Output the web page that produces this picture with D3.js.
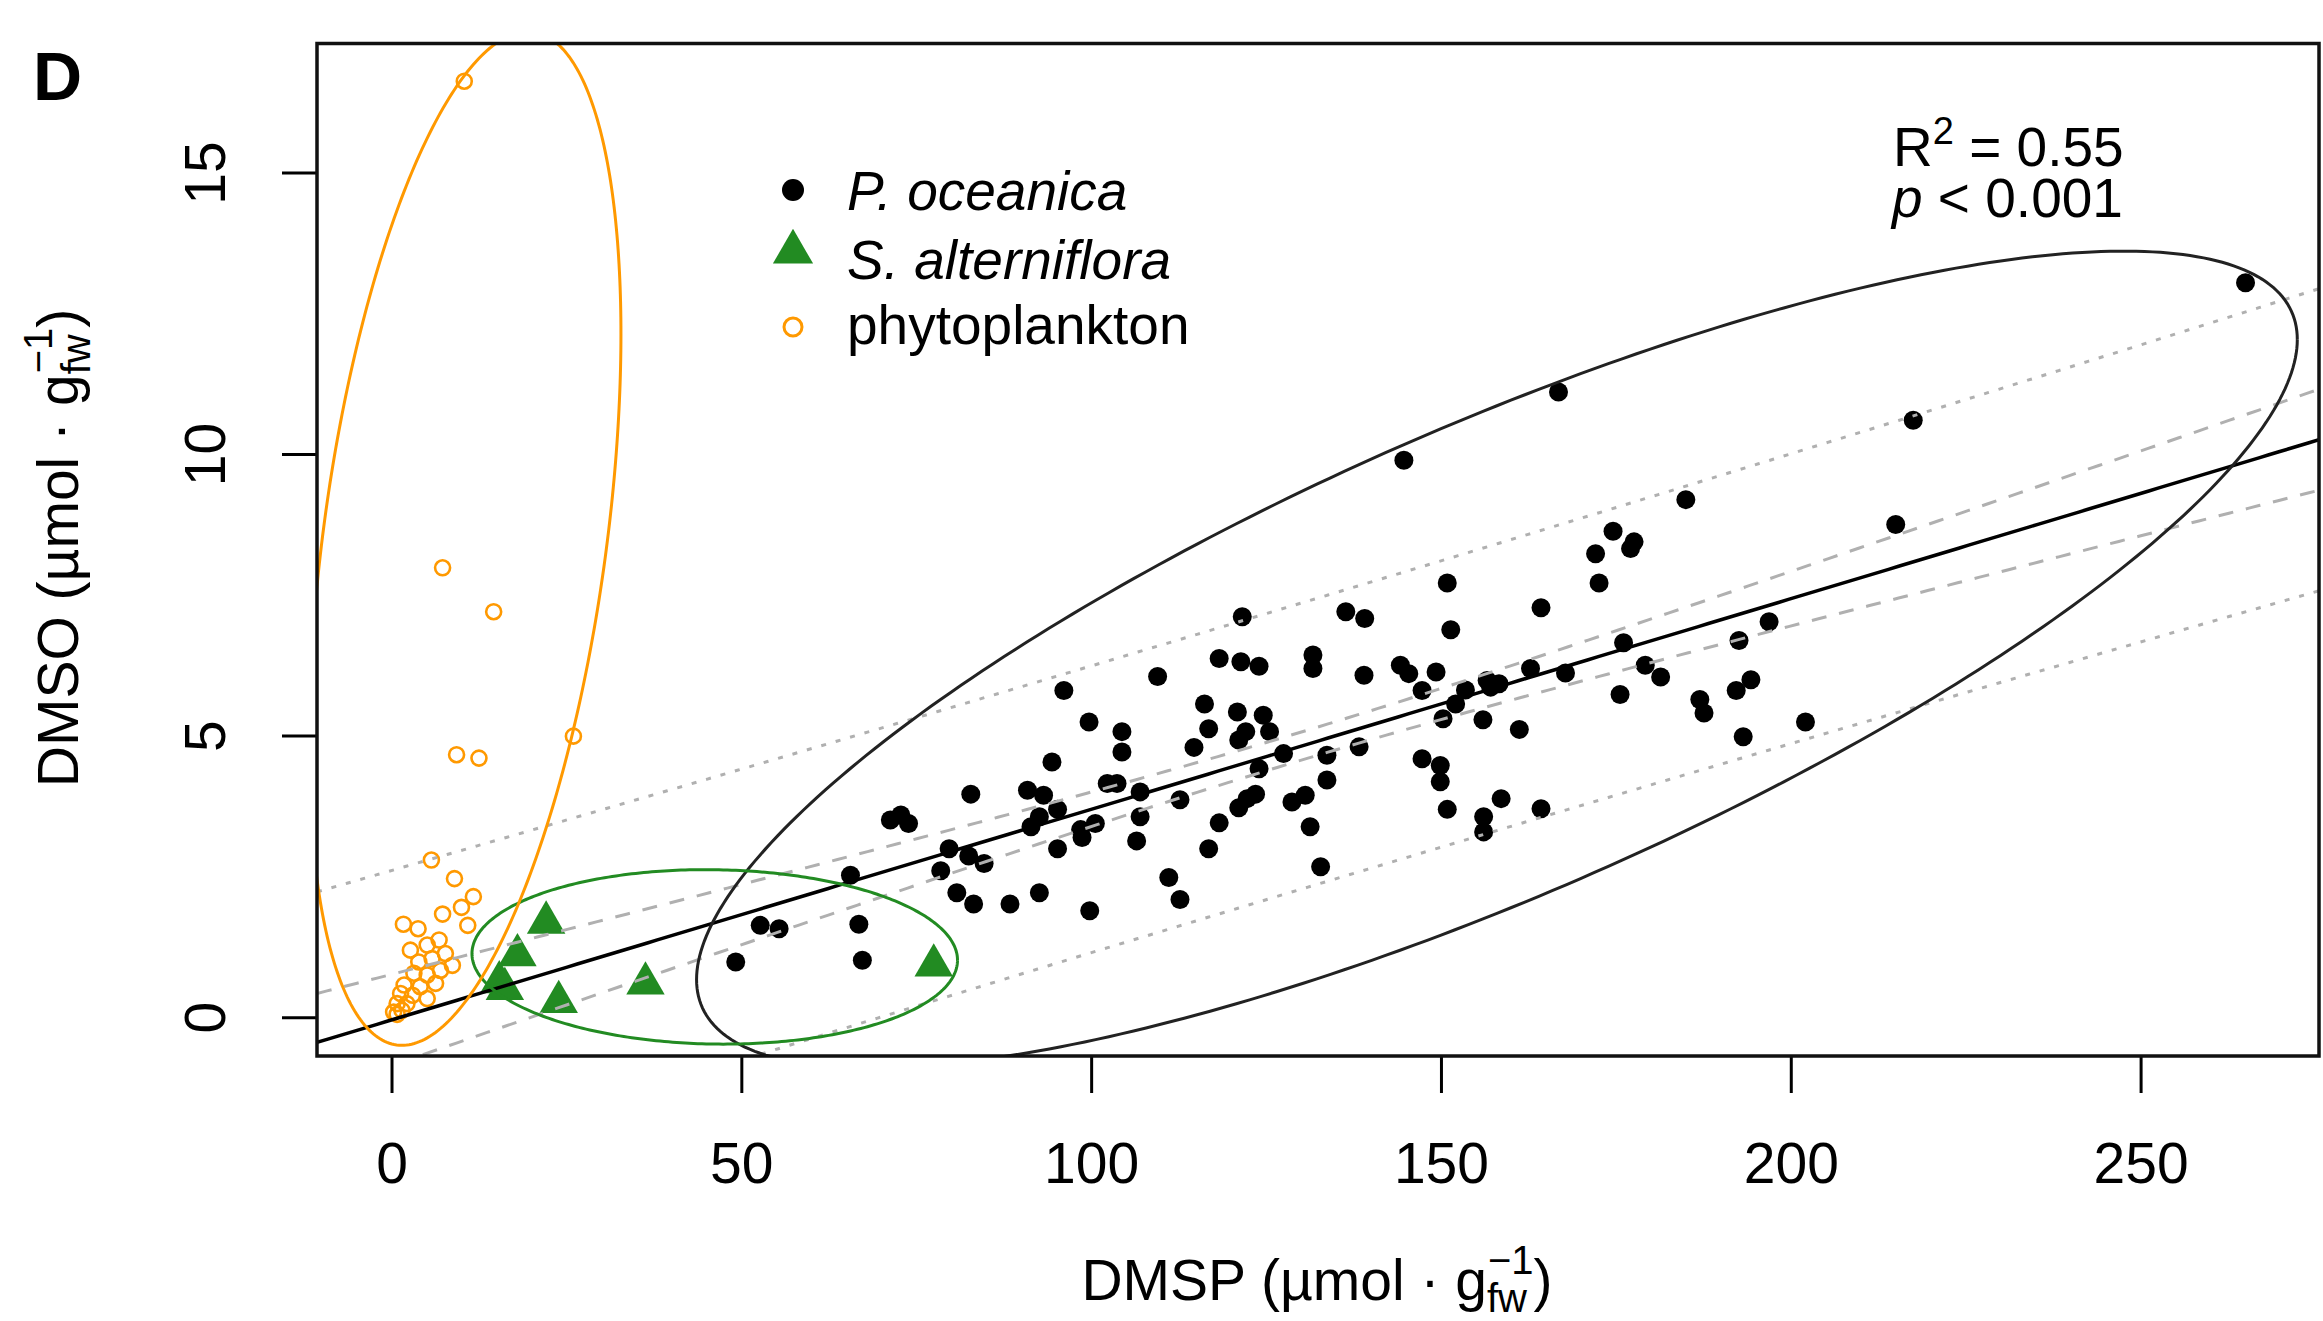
<!DOCTYPE html>
<html>
<head>
<meta charset="utf-8">
<script src="https://cdn.jsdelivr.net/npm/d3@7"></script>
<style>
  body { margin: 0; background: #fff; }
  svg { display: block; }
  text { font-family: "Liberation Sans", Arial, sans-serif; fill: #000; }
</style>
</head>
<body>
<svg id="chart" width="2323" height="1321"></svg>
<script>
// ---- data ----
const xTicks = [0, 50, 100, 150, 200, 250];
const yTicks = [0, 5, 10, 15];

// P. oceanica (DMSP, DMSO)
const oceanica = [
  [121.6,7.11],[136.4,7.20],[139.1,7.08],[96.1,5.80],[109.5,6.05],[118.3,6.37],[121.4,6.31],[124.0,6.23],
  [131.7,6.43],[131.7,6.19],[139.0,6.07],[99.7,5.24],[104.4,5.07],[104.4,4.71],[116.2,5.56],[116.8,5.12],
  [114.7,4.79],[120.9,5.42],[122.1,5.07],[121.1,4.92],[124.6,5.36],[125.5,5.07],[127.5,4.68],[124.0,4.41],
  [133.7,4.65],[133.7,4.21],[138.3,4.80],[94.4,4.53],[82.8,3.96],[72.8,3.59],[71.3,3.50],[73.9,3.44],
  [90.9,4.03],[93.2,3.94],[95.2,3.69],[92.6,3.56],[91.4,3.38],[102.3,4.15],[103.7,4.15],[107.0,4.00],
  [107.0,3.56],[106.5,3.13],[98.5,3.33],[100.6,3.44],[98.7,3.19],[95.2,2.99],[112.7,3.86],[118.3,3.45],
  [116.8,2.99],[111.1,2.48],[112.7,2.09],[122.3,3.88],[123.5,3.96],[121.1,3.72],[128.7,3.82],[130.6,3.94],
  [131.3,3.38],[132.8,2.67],[79.7,2.99],[82.5,2.86],[84.7,2.73],[78.5,2.60],[80.8,2.21],[83.2,2.01],
  [88.4,2.01],[92.6,2.21],[99.8,1.89],[65.6,2.52],[66.8,1.65],[67.3,1.01],[52.7,1.63],[55.4,1.57],
  [49.2,0.98],[144.7,9.89],[185.0,9.19],[174.6,8.63],[177.6,8.44],[177.1,8.32],[172.1,8.23],[172.6,7.71],
  [150.9,7.71],[151.4,6.88],[164.3,7.27],[144.2,6.25],[145.4,6.10],[149.3,6.13],[147.3,5.80],[153.5,5.81],
  [152.1,5.56],[150.3,5.30],[156.6,5.98],[158.3,5.92],[157.1,5.86],[162.8,6.19],[167.8,6.11],[176.1,6.65],
  [179.2,6.25],[181.4,6.04],[175.6,5.73],[156.0,5.28],[161.2,5.11],[192.6,6.69],[196.9,7.02],[187.0,5.64],
  [187.6,5.40],[194.3,5.99],[192.2,5.80],[193.2,4.98],[147.3,4.59],[149.9,4.47],[149.9,4.18],[150.9,3.69],
  [158.6,3.88],[156.1,3.56],[156.1,3.29],[164.3,3.70],[265.0,13.04],[217.5,10.60],[215.0,8.75],[202.1,5.24],
  [166.8,11.10]
];

// S. alterniflora
const alterniflora = [
  [22.1,1.68],[18.0,1.10],[15.4,0.62],[16.2,0.50],[23.9,0.27],[36.3,0.60],[77.5,0.92]
];

// phytoplankton
const phytoplankton = [
  [10.4,16.62],[7.3,7.98],[14.6,7.20],[26.0,4.99],[9.3,4.66],[12.5,4.60],[5.7,2.79],[9.0,2.46],
  [11.7,2.14],[10.0,1.95],[7.3,1.83],[10.9,1.63],[1.7,1.65],[3.8,1.57],[6.8,1.37],[5.1,1.28],
  [2.7,1.19],[7.7,1.13],[8.7,0.92],[5.8,1.04],[3.9,0.98],[7.0,0.83],[3.2,0.78],[6.3,0.60],
  [5.1,0.75],[1.8,0.57],[4.1,0.54],[1.3,0.42],[3.0,0.39],[5.1,0.33],[0.8,0.24],[2.2,0.24],
  [0.3,0.09],[1.5,0.12],[0.8,0.05]
];

// linear fit (P. oceanica) and band parameters
const fitCoef = [-0.05, 0.0374];          // intercept, slope
const fitMeanX = 130;
const confHalfAtMean = 0.25;
const predHalfAtMean = 2.54;
const bandSlope = 0.00592;

// data ellipses: centre and covariance [xx, xy, yy]
const ellipseCentres = { oceanica: [158, 6.35], alterniflora: [46.2, 1.07], phytoplankton: [10.5, 8.5] };
const ellipseCov = { oceanica: [13087, 650, 52.6], alterniflora: [1204, -2, 2.4], phytoplankton: [497, 81, 81] };

const legendLabels = ["P. oceanica", "S. alterniflora", "phytoplankton"];

// ---- layout ----
const W = 2323, H = 1321;
const margin = { left: 317, right: 4, top: 43.5, bottom: 265 };
const black = "#000", green = "#228b22", orange = "#ff9900", grey = "#b0b0b0";

const svg = d3.select("#chart");

const x = d3.scaleLinear().domain([-10.65, 275.5]).range([margin.left, W - margin.right]);
const y = d3.scaleLinear().domain([-0.69, 17.29]).range([H - margin.bottom, margin.top]);

svg.append("defs").append("clipPath").attr("id", "plotclip")
  .append("rect")
  .attr("x", margin.left).attr("y", margin.top)
  .attr("width", W - margin.left - margin.right)
  .attr("height", H - margin.top - margin.bottom);

const plot = svg.append("g").attr("clip-path", "url(#plotclip)");

// points
plot.selectAll(".oce").data(oceanica).join("circle")
  .attr("cx", d => x(d[0])).attr("cy", d => y(d[1]))
  .attr("r", 9.5).attr("fill", black);

plot.selectAll(".alt").data(alterniflora).join("path")
  .attr("transform", d => `translate(${x(d[0])},${y(d[1])})`)
  .attr("d", d3.symbol(d3.symbolTriangle, 640))
  .attr("fill", green);

plot.selectAll(".phy").data(phytoplankton).join("circle")
  .attr("cx", d => x(d[0])).attr("cy", d => y(d[1]))
  .attr("r", 7.5).attr("fill", "none")
  .attr("stroke", orange).attr("stroke-width", 2.6);

// regression line with bands
const xs = d3.range(0, 201).map(i => x.domain()[0] + (x.domain()[1] - x.domain()[0]) * i / 200);
const fitY = v => fitCoef[0] + fitCoef[1] * v;
const half = (h0, v) => Math.sqrt(h0 * h0 + bandSlope * bandSlope * (v - fitMeanX) * (v - fitMeanX));
const line = d3.line().x(d => x(d[0])).y(d => y(d[1]));

function band(h0, sign, dash) {
  plot.append("path")
    .attr("d", line(xs.map(v => [v, fitY(v) + sign * half(h0, v)])))
    .attr("fill", "none").attr("stroke", grey)
    .attr("stroke-width", 3).attr("stroke-dasharray", dash);
}
band(predHalfAtMean, 1, "5,10");
band(predHalfAtMean, -1, "5,10");
band(confHalfAtMean, 1, "15,13");
band(confHalfAtMean, -1, "15,13");

plot.append("path")
  .attr("d", line(xs.map(v => [v, fitY(v)])))
  .attr("fill", "none").attr("stroke", black).attr("stroke-width", 3.5);

// ellipses
function ellipse(key, colour) {
  const c = ellipseCentres[key], m = ellipseCov[key];
  const a = Math.sqrt(m[0]);
  const b = m[1] / a;
  const e = Math.sqrt(m[2] - b * b);
  const pts = d3.range(0, 361).map(i => {
    const t = i * Math.PI / 180;
    return [c[0] + a * Math.cos(t), c[1] + b * Math.cos(t) + e * Math.sin(t)];
  });
  plot.append("path")
    .attr("d", line(pts))
    .attr("fill", "none").attr("stroke", colour).attr("stroke-width", 3);
}
ellipse("oceanica", "#222");
ellipse("alterniflora", green);
ellipse("phytoplankton", orange);

// axes
const xAxis = svg.append("g")
  .attr("transform", `translate(0,${H - margin.bottom})`)
  .call(d3.axisBottom(x).tickValues(xTicks).tickSize(37).tickPadding(50).tickSizeOuter(0));
const yAxis = svg.append("g")
  .attr("transform", `translate(${margin.left},0)`)
  .call(d3.axisLeft(y).tickValues(yTicks).tickSize(35).tickSizeOuter(0));

[xAxis, yAxis].forEach(g => {
  g.select(".domain").remove();
  g.selectAll("line").attr("stroke", black).attr("stroke-width", 3);
  g.selectAll("text").style("font-size", "57px")
    .style("font-family", '"Liberation Sans", Arial, sans-serif').attr("fill", black);
});
yAxis.selectAll("text")
  .attr("x", null).attr("dy", null)
  .attr("text-anchor", "middle")
  .attr("transform", "translate(-92,0) rotate(-90)");

// box
svg.append("rect")
  .attr("x", margin.left).attr("y", margin.top)
  .attr("width", W - margin.left - margin.right)
  .attr("height", H - margin.top - margin.bottom)
  .attr("fill", "none").attr("stroke", "#111").attr("stroke-width", 3.5);

// axis titles
function unitTitle(sel, name) {
  sel.append("tspan").text(name + " (\u00b5mol \u00b7 g");
  sel.append("tspan").attr("font-size", 40).attr("dy", 12).text("fw");
  sel.append("tspan").attr("font-size", 40).attr("dx", -39).attr("dy", -38).text("\u22121");
  sel.append("tspan").attr("dy", 26).text(")");
}
const xt = svg.append("text")
  .attr("x", 1317).attr("y", 1300)
  .attr("text-anchor", "middle").style("font-size", "57px");
unitTitle(xt, "DMSP");

const yt = svg.append("text")
  .attr("transform", "translate(78,548) rotate(-90)")
  .attr("text-anchor", "middle").style("font-size", "57px");
unitTitle(yt, "DMSO");

// panel letter
svg.append("text").attr("x", 33).attr("y", 100)
  .style("font-size", "68px").style("font-weight", "bold").text("D");

// legend
const legend = svg.append("g");
const rows = [190, 252, 327];
legend.append("circle").attr("cx", 793).attr("cy", rows[0]).attr("r", 11).attr("fill", black);
legend.append("path").attr("transform", `translate(793,${rows[1]})`)
  .attr("d", d3.symbol(d3.symbolTriangle, 700)).attr("fill", green);
legend.append("circle").attr("cx", 793).attr("cy", rows[2]).attr("r", 9)
  .attr("fill", "none").attr("stroke", orange).attr("stroke-width", 3);
[210, 279, 344].forEach((by, i) => {
  legend.append("text").attr("x", 847).attr("y", by)
    .style("font-size", "55px")
    .style("font-style", i < 2 ? "italic" : "normal")
    .text(legendLabels[i]);
});

// statistics
const r2 = svg.append("text").attr("x", 1893).attr("y", 166).style("font-size", "55px");
r2.append("tspan").text("R");
r2.append("tspan").attr("font-size", 38).attr("dy", -22).text("2");
r2.append("tspan").attr("dy", 22).text(" = 0.55");
const pv = svg.append("text").attr("x", 1892).attr("y", 217).style("font-size", "55px");
pv.append("tspan").style("font-style", "italic").text("p");
pv.append("tspan").text(" < 0.001");
</script>
</body>
</html>
